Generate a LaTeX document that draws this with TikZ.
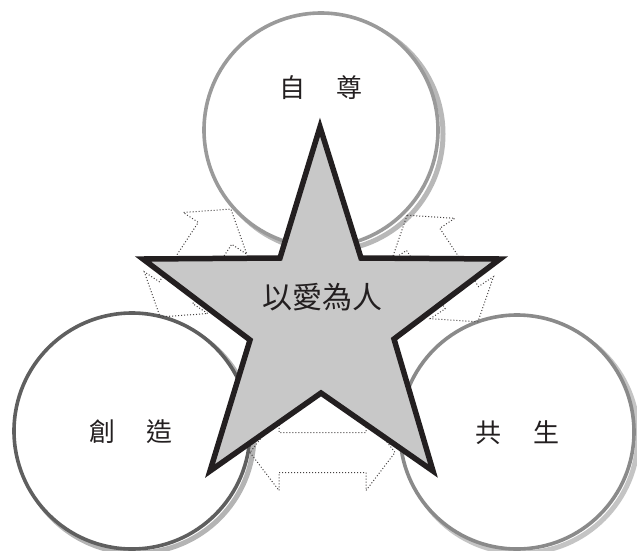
\documentclass[tikz,border=0pt]{standalone}
\usepackage{fontspec}
\newfontfamily\cjk{Noto Sans CJK TC}
\definecolor{ink}{HTML}{231F20}
\definecolor{starfill}{HTML}{C8C8C8}
\definecolor{ringA}{HTML}{9A9A9A}
\definecolor{ringB}{HTML}{5F5F5F}
\definecolor{ringC}{HTML}{8A8A8A}
\definecolor{shadA}{HTML}{B8B8B8}
\definecolor{shadB}{HTML}{B4B4B4}
\definecolor{shadC}{HTML}{C4C4C4}
\tikzset{
  ringline/.style={line width=3.6pt, fill=white},
  shadowline/.style={line width=5pt},
  arrowline/.style={draw=ink!85, line width=1pt, dash pattern=on 1pt off 2pt, line join=miter},
  starline/.style={draw=ink, fill=starfill, line width=5.5pt, line join=miter, miter limit=20},
  lbl/.style={text=ink, font=\cjk\fontsize{26pt}{30pt}\selectfont, inner sep=0pt},
  mainlbl/.style={text=ink, font=\cjk\fontsize{30pt}{34pt}\selectfont, inner sep=0pt}
}
\newcommand{\darrow}[4]{%
  \draw[arrowline, shift={(#1,#2)}, rotate=#3]
    (-#4/2,0) -- (-#4/2+29,38) -- (-#4/2+29,20) -- (#4/2-29,20) -- (#4/2-29,38)
    -- (#4/2,0) -- (#4/2-29,-38) -- (#4/2-29,-20) -- (-#4/2+29,-20) -- (-#4/2+29,-38) -- cycle;}
\begin{document}
\begin{tikzpicture}[x=1pt,y=-1pt]
\useasboundingbox (0,0) rectangle (637,550);
% shadows
\draw[shadowline, shadA] (326,134) circle (117);
\draw[shadowline, shadB] (136,435) circle (118);
\draw[shadowline, shadC] (521,436) circle (117);
% circles
\draw[ringline, draw=ringA] (321,130) circle (117);
\draw[ringline, draw=ringB] (132,431) circle (118);
\draw[ringline, draw=ringC] (517,432) circle (117);
% dotted double arrows
\darrow{195.5}{263}{56.7}{129}
\darrow{442.5}{268.5}{-56.4}{128}
\darrow{322.5}{452.5}{0}{145}
% star
\draw[starline] (320,127) -- (361,258) -- (500,259) -- (394,339) -- (433,471)
  -- (321,393) -- (210,471) -- (250,340) -- (143,259) -- (280,258) -- cycle;
% labels
\node[lbl] (zizun) at (321,88) {自\hspace{32pt}尊};
\node[lbl] (chuangzao) at (131,432) {創\hspace{32pt}造};
\node[lbl] (gongsheng) at (517.5,433) {共\hspace{32pt}生};
\node[mainlbl] (center) at (322,297) {以愛為人};
\end{tikzpicture}
\end{document}
